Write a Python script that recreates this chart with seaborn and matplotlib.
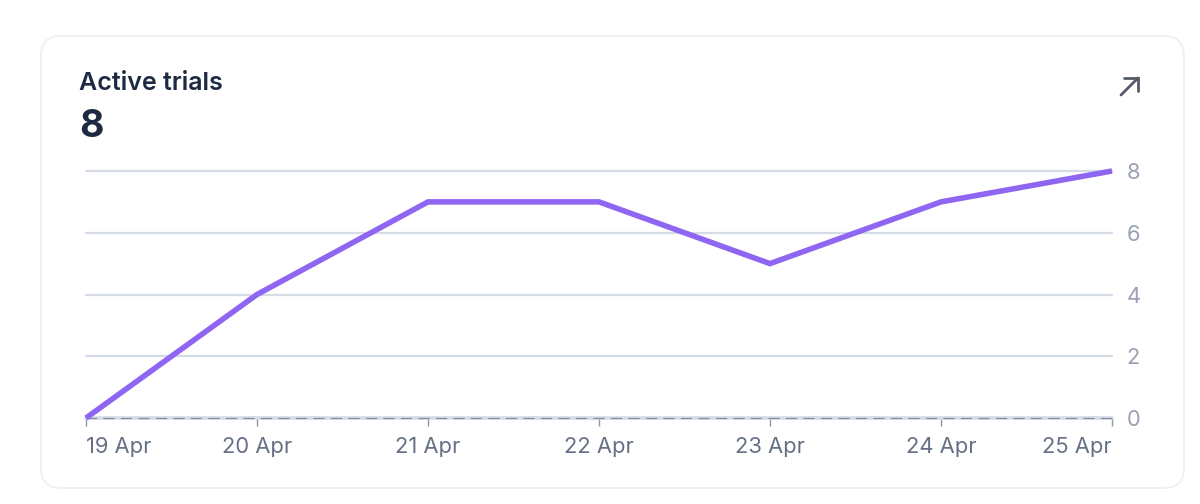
import matplotlib
matplotlib.use("Agg")
import matplotlib.pyplot as plt
from matplotlib.lines import Line2D
from matplotlib.patches import FancyBboxPatch
import pandas as pd
import seaborn as sns

days = ["19 Apr", "20 Apr", "21 Apr", "22 Apr", "23 Apr", "24 Apr", "25 Apr"]
active_trials = [0, 4, 7, 7, 5, 7, 8]
y_ticks = [0, 2, 4, 6, 8]
title = "Active trials"
headline = "8"

W, H = 1200, 504
sns.set_theme(style="white")
plt.rcParams["font.family"] = ["Inter", "DejaVu Sans"]

fig = plt.figure(figsize=(W / 100, H / 100), dpi=100, facecolor="white")

def fx(px): return px / W
def fy(py): return 1 - py / H

card = FancyBboxPatch((41, H - 488), 1143, 452,
                      boxstyle="round,pad=0,rounding_size=20",
                      transform=None, fc="white", ec="#eef0f5", lw=1.4, zorder=-5)
fig.add_artist(card)

ax = fig.add_axes([fx(86), fy(418), fx(1112 - 86), (418 - 171) / H])
ax.patch.set_alpha(0)
df = pd.DataFrame({"day": range(len(days)), "value": active_trials})

ax.set_xlim(0, len(days) - 1)
ax.set_ylim(0, 8)
ax.set_yticks(y_ticks)
ax.set_xticks(df["day"])
ax.set_xticklabels(days)
ax.yaxis.tick_right()
ax.grid(axis="y", color="#d6dce6", lw=1.6, zorder=1)
for gl in ax.get_ygridlines():
    gl.set_clip_on(False)
ax.get_ygridlines()[0].set_linewidth(2.6)
ax.grid(axis="x", visible=False)
for s in ["top", "left", "right"]:
    ax.spines[s].set_visible(False)
ax.spines["bottom"].set_color("#858da0")
ax.spines["bottom"].set_linewidth(0.9)
ax.spines["bottom"].set_linestyle((0, (8, 6)))
ax.spines["bottom"].set_zorder(3)

ax.tick_params(axis="x", length=6, width=1, color="#8d95a6", pad=8,
               labelsize=15.8, labelcolor="#667085", bottom=True)
ax.tick_params(axis="y", length=0, pad=10.5, labelsize=15.8, labelcolor="#98a2b3")
labels = ax.get_xticklabels()
labels[0].set_ha("left")
labels[-1].set_ha("right")

sns.lineplot(data=df, x="day", y="value", ax=ax, color="#8f66f2", lw=4,
             zorder=5, clip_on=False, solid_joinstyle="miter", solid_capstyle="butt")
ax.set_xlabel("")
ax.set_ylabel("")

fig.text(fx(79), fy(83), title, fontsize=18, fontweight="semibold",
         color="#1d2a42", va="center", ha="left")
fig.text(fx(79), fy(127), headline, fontsize=27, fontweight="bold",
         color="#1d2a42", va="center", ha="left")

arrow_c = "#555a69"
for xs, ys in [([1121, 1138], [95, 78]), ([1124, 1138, 1138], [78, 78, 91])]:
    fig.add_artist(Line2D([fx(v) for v in xs], [fy(v) for v in ys], color=arrow_c,
                          lw=2.0, solid_capstyle="round", solid_joinstyle="miter"))

fig.savefig("out.png", dpi=100, facecolor="white")
